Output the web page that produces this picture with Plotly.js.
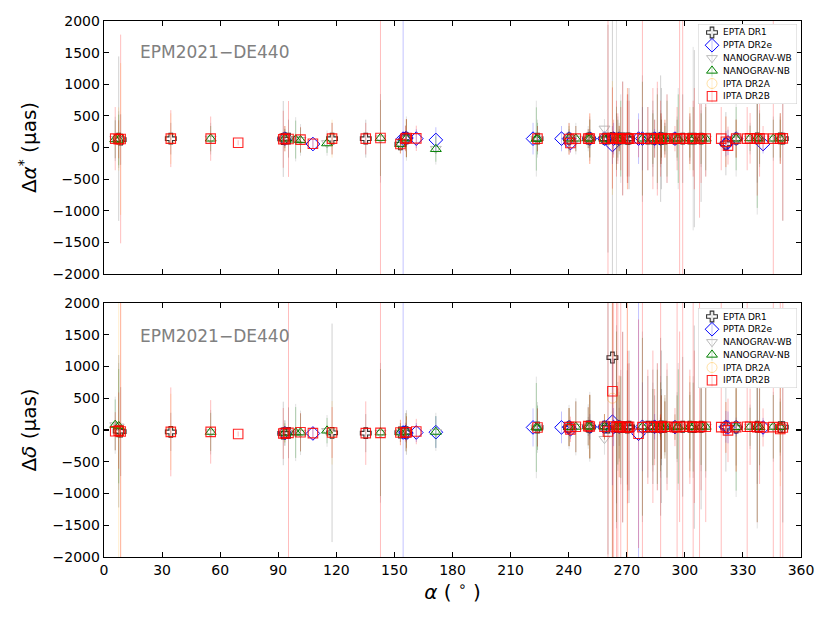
<!DOCTYPE html>
<html>
<head>
<meta charset="utf-8">
<script src="https://cdn.plot.ly/plotly-3.0.1.min.js"></script>
<style>body{margin:0;background:#fff}#plot{width:830px;height:623px}</style>
</head>
<body>
<div id="plot"></div>
<script>
// ---------------- DATA ----------------
const seriesNames = ['EPTA DR1', 'PPTA DR2e', 'NANOGRAV-WB', 'NANOGRAV-NB', 'IPTA DR2A', 'IPTA DR2B'];
const panelLabel = 'EPM2021−DE440';

// EPTA DR1
const eptaRA    = [7.6, 8.6, 34.5, 92.6, 93.4, 95.3, 117.8, 135.2, 153.1, 155.7, 156.2, 223.9, 240.2, 250.1, 250.9, 258.5, 260.3, 262.6, 264.7, 266.1, 267.9, 270.3, 270.5, 271.2, 280.9, 283.5, 284.4, 287.4, 287.5, 287.9, 287.9, 289.7, 294.9, 298.9, 302.6, 304.9, 308.4, 321.2, 326.5, 337.4, 349.3, 350.6];
const eptaDA    = [140,125,140,135,145,140,140,140,50,150,145,140,140,140,145,140,140,150,140,140,145,140,140,140,140,140,140,145,140,140,140,140,140,140,140,140,140,60,140,145,145,140];
const eptaDAerr = [1300,400,250,600,150,300,250,300,100,200,300,200,150,100,300,100,1800,5000,400,150,900,600,700,800,500,600,300,100,1000,300,800,250,100,700,400,1400,1000,500,300,700,400,1300];
const eptaDD    = [-20,-25,-30,-55,-50,-45,-45,-50,-40,-35,-40,40,45,55,50,50,40,1140,45,50,45,40,45,50,50,50,45,45,50,45,50,50,45,50,50,45,50,45,40,50,45,45];
const eptaDDerr = [1200,700,300,500,200,400,1720,300,150,300,350,300,300,150,500,100,2000,5000,1200,300,1500,900,1000,1200,800,900,500,150,1400,600,1200,500,200,1100,700,1600,1300,700,600,900,700,1500];

// PPTA DR2e
const pptaRA    = [93.4, 107.9, 154.5, 155.7, 156.2, 161.3, 171.4, 221.6, 236.3, 240.2, 240.9, 250.9, 258.5, 262.6, 263.2, 266.1, 276.1, 278.1, 284.4, 287.4, 294.9, 321.2, 322.3, 326.5, 340.4];
const pptaDA    = [140,55,140,145,150,140,120,140,140,140,70,140,140,40,140,140,140,140,140,140,140,60,80,140,55];
const pptaDAerr = [100,80,5000,60,120,150,200,250,200,80,150,150,40,300,250,60,400,500,150,30,60,200,200,100,150];
const pptaDD    = [-50,-55,-40,-35,-50,-40,-35,40,40,45,10,50,45,130,45,50,-60,50,50,45,45,50,40,45,40];
const pptaDDerr = [100,80,5000,80,150,150,250,300,250,100,150,200,50,1000,300,100,5000,700,200,30,100,250,250,150,150];

// NANOGRAV-WB
const wbRA    = [5.8, 7.6, 55.1, 93.4, 99.0, 101.5, 115.2, 142.8, 153.1, 156.2, 171.4, 223.3, 223.9, 240.2, 243.7, 250.1, 250.9, 258.5, 264.7, 265.4, 266.1, 266.9, 278.1, 283.5, 285.8, 287.4, 287.5, 287.9, 289.7, 290.8, 296.0, 296.6, 302.6, 304.3, 308.4, 310.8, 326.5, 333.7, 337.4, 338.6, 345.7, 349.3];
const wbDA    = [135,125,140,140,130,120,70,145,60,140,-20,140,140,140,140,140,140,300,140,140,140,140,140,140,140,140,140,140,140,140,140,140,140,140,140,140,140,140,140,140,140,140];
const wbDAerr = [350,450,250,200,350,250,200,700,150,350,250,600,300,250,250,200,350,150,5000,350,250,700,1000,450,800,150,450,350,250,700,350,800,350,1450,450,600,600,250,1200,450,350,350];
const wbDD    = [75,55,-35,-45,-40,-45,-15,-45,-40,-35,-30,40,40,45,50,55,50,-140,50,55,50,45,50,45,50,45,50,45,50,50,45,55,50,45,50,50,45,50,50,45,50,45];
const wbDDerr = [450,1000,350,200,450,350,250,1100,150,300,300,800,400,350,450,350,550,250,1600,700,550,900,1500,700,1000,200,800,600,450,900,550,1000,550,800,700,800,1100,350,1600,700,550,450];

// NANOGRAV-NB
const nbRA    = [5.8, 7.6, 55.1, 93.4, 99.0, 101.5, 115.2, 142.8, 153.1, 156.2, 171.4, 223.3, 223.9, 240.2, 243.7, 250.1, 250.9, 258.5, 264.7, 265.4, 266.1, 266.9, 278.1, 283.5, 285.8, 287.4, 287.5, 287.9, 289.7, 290.8, 296.0, 296.6, 302.6, 304.3, 308.4, 310.8, 326.5, 333.7, 337.4, 338.6, 345.7, 349.3];
const nbDA    = [130,120,140,140,125,115,65,150,55,145,-25,135,140,140,140,140,140,135,145,140,140,140,140,140,140,140,140,140,140,140,140,140,140,140,140,140,140,145,145,140,140,140];
const nbDAerr = [300,400,200,150,300,200,150,600,100,300,200,500,250,200,200,150,300,100,500,300,200,600,900,400,700,100,400,300,200,600,300,700,300,500,400,500,500,200,1100,400,300,300];
const nbDD    = [80,60,-30,-45,-40,-40,-10,-40,-40,-30,-30,40,35,45,50,55,50,50,50,55,50,45,50,45,50,45,50,45,50,50,45,55,50,45,50,50,45,50,50,45,50,45];
const nbDDerr = [400,900,300,150,400,300,200,1000,100,250,250,700,350,300,400,300,500,200,1500,600,500,800,1400,600,900,150,700,500,400,800,500,900,500,700,600,700,1000,300,1500,600,500,400];

// IPTA DR2A
const dr2aRA    = [7.6, 8.6, 34.5, 93.4, 117.8, 153.1, 156.2, 240.2, 250.9, 258.5, 262.6, 266.1, 270.3, 287.4, 289.7, 294.9, 302.6, 321.2, 326.5, 349.3];
const dr2aDA    = [135,135,140,140,140,55,150,140,140,140,150,140,140,145,140,140,140,90,140,140];
const dr2aDAerr = [500,1200,400,200,300,150,300,250,400,100,900,200,800,100,300,100,500,400,300,400];
const dr2aDD    = [-15,-25,-30,-50,-45,-40,-40,45,55,50,500,55,40,45,50,45,50,40,45,15];
const dr2aDDerr = [5000,3000,600,150,500,200,300,300,500,200,5000,800,3000,200,500,200,800,400,700,900];

// IPTA DR2B
const dr2bRA    = [5.8, 7.6, 8.6, 34.5, 55.1, 69.3, 92.6, 93.4, 95.3, 101.5, 107.9, 117.8, 135.2, 142.8, 153.1, 155.7, 156.2, 161.3, 223.9, 240.2, 240.9, 243.7, 250.1, 250.9, 258.5, 260.3, 262.6, 263.2, 264.7, 265.4, 266.1, 266.9, 267.9, 270.3, 270.5, 271.2, 276.1, 278.1, 280.9, 283.5, 284.4, 285.8, 287.4, 287.5, 287.9, 289.7, 290.8, 294.9, 296.0, 297.3, 298.9, 302.6, 304.3, 304.9, 307.6, 308.4, 310.8, 318.8, 321.2, 322.3, 326.5, 332.2, 333.7, 337.4, 338.6, 340.4, 345.7, 349.3, 350.6];
const dr2bDA    = [140,130,135,140,140,75,130,140,135,125, 60,140,140,150,55,140,150,145,140,135, 70,140,140,140,140,140,150,140,140,140, 145,140,140,140,140,140,145,140,140,140, 140,140,145,140,140,140,140,140,140,140, 140,140,140,140,140,140,140,140,90,30, 140,140,145,140,140,140,140,140,145];
const dr2bDAerr = [500,300,1650,450,350,40,450,200,600,200, 80,250,250,5000,150,200,300,200,200,250, 150,200,150,400,100,5000,800,300,600,400, 200,500,900,700,800,600,300,5000,500,800, 300,900,100,600,400,300,700,200,500,5000, 5000,400,600,800,1250,700,600,500,400,300, 300,500,400,900,600,200,5000,400,1300];
const dr2bDD    = [-20,-10,-25,-30,-30,-63,-55,-50,-45,-35, -50,-40,-50,-45,-40,-35,-40,-25,40,45, 10,50,60,55,50,-25,610,55,45,50, 55,50,45,40,45,50,-60,45,50,50, 45,50,45,50,45,50,50,45,45,50, 50,50,45,50,45,50,50,45,40,-6, 45,50,50,45,50,40,45,15,40];
const dr2bDDerr = [300,600,5000,700,500,40,400,100,5000,300, 100,400,500,5000,200,150,250,200,300,300, 200,400,300,500,200,5000,5000,5000,5000,5000, 800,5000,1500,5000,1200,1000,1800,5000,900,1200, 600,1000,200,5000,500,400,1000,300,5000,1500, 5000,900,5000,1200,5000,1000,1500,5000,400,500, 700,5000,600,1500,900,300,5000,5000,5000];

// ---------------- STYLES ----------------
const styles = [
  {symbol:'cross-open',         color:'#333333',               size:9,   lw:1.1, err:'rgba(90,90,90,0.28)'},
  {symbol:'diamond-open',       color:'#0000ff',               size:10.5,lw:1.0, err:'rgba(0,0,255,0.24)'},
  {symbol:'triangle-down-open', color:'#bbbbbb',               size:9.5, lw:1.0, err:'rgba(140,140,140,0.25)'},
  {symbol:'triangle-up-open',   color:'#008000',               size:9.5, lw:1.0, err:'rgba(0,128,0,0.26)'},
  {symbol:'circle-open',        color:'rgba(255,165,0,0.35)',  size:10,  lw:1.0, err:'rgba(255,165,0,0.20)'},
  {symbol:'square-open',        color:'rgba(255,0,0,0.85)',    size:9.5, lw:1.1, err:'rgba(255,0,0,0.26)'}
];

const series = [
  [eptaRA, eptaDA, eptaDAerr, eptaDD, eptaDDerr],
  [pptaRA, pptaDA, pptaDAerr, pptaDD, pptaDDerr],
  [wbRA, wbDA, wbDAerr, wbDD, wbDDerr],
  [nbRA, nbDA, nbDAerr, nbDD, nbDDerr],
  [dr2aRA, dr2aDA, dr2aDAerr, dr2aDD, dr2aDDerr],
  [dr2bRA, dr2bDA, dr2bDAerr, dr2bDD, dr2bDDerr]
];

const mkOf = st => ({symbol: st.symbol, size: st.size, color: st.color, line: {color: st.color, width: st.lw}});

const traces = [];
series.forEach((s, i) => {
  const st = styles[i];
  traces.push({
    type:'scatter', mode:'markers', name: seriesNames[i], x: s[0], y: s[1],
    xaxis:'x2', yaxis:'y', marker: mkOf(st), showlegend:false, hoverinfo:'skip',
    error_y:{type:'data', array:s[2], visible:true, color:st.err, thickness:1, width:0}
  });
  traces.push({
    type:'scatter', mode:'markers', name: seriesNames[i], x: s[0], y: s[3],
    xaxis:'x', yaxis:'y2', marker: mkOf(st), showlegend:false, hoverinfo:'skip',
    error_y:{type:'data', array:s[4], visible:true, color:st.err, thickness:1, width:0}
  });
});

// ---------------- LAYOUT ----------------
const W = 830, H = 623, ML = 104, MR = 29, MT = 21, MB = 66;
const PW = W - ML - MR, PH = H - MT - MB;
const px2x = p => (p - ML) / PW;
const py2y = p => (H - MB - p) / PH;

const axBase = {
  showline:true, linecolor:'black', linewidth:1.3, mirror:'ticks',
  ticks:'inside', ticklen:5, tickwidth:1.1, tickcolor:'black',
  showgrid:false, zeroline:false, exponentformat:'none',
  tickfont:{size:14, family:'DejaVu Sans', color:'black'}
};

const annotations = [];
const shapes = [];
// panel labels
[52, 336].forEach(py => {
  annotations.push({text: panelLabel, xref:'paper', yref:'paper', x: px2x(138), y: py2y(py),
    xanchor:'left', yanchor:'middle', showarrow:false, font:{size:17, color:'#808080', family:'DejaVu Sans'}});
});

// compact legends: one small overlay subplot per panel (pixel-like local axes)
const legendBoxes = [{top:24, xa:'x3', ya:'y3'}, {top:308, xa:'x4', ya:'y4'}];
const LBW = 99, LBH = 80, ROW = 12.75, ROW0 = 8.5, SYMX = 14, TXTX = 24;
const legendAxes = {};
legendBoxes.forEach(lb => {
  const xn = 'xaxis' + lb.xa.slice(1), yn = 'yaxis' + lb.ya.slice(1);
  legendAxes[xn] = {domain:[px2x(698), px2x(698 + LBW)], range:[0, LBW], visible:false, anchor: lb.ya, fixedrange:true};
  legendAxes[yn] = {domain:[py2y(lb.top + LBH), py2y(lb.top)], range:[LBH, 0], visible:false, anchor: lb.xa, fixedrange:true};
  shapes.push({type:'rect', xref: lb.xa, yref: lb.ya, x0:0, x1:LBW, y0:0, y1:LBH, layer:'below',
    line:{color:'#cccccc', width:1}, fillcolor:'rgba(255,255,255,0.88)'});
  seriesNames.forEach((nm, i) => {
    const st = styles[i];
    const rowY = ROW0 + ROW * i;
    traces.push({type:'scatter', mode:'markers', x:[SYMX], y:[rowY], xaxis: lb.xa, yaxis: lb.ya,
      marker: mkOf(st), showlegend:false, hoverinfo:'skip', cliponaxis:false,
      error_y:{type:'data', array:[6], visible:true, color: st.err, thickness:1, width:0}});
    annotations.push({text: nm, xref: lb.xa, yref: lb.ya, x: TXTX, y: rowY,
      xanchor:'left', yanchor:'middle', showarrow:false, borderpad:0,
      font:{size:9, color:'black', family:'DejaVu Sans'}});
  });
});

const layout = Object.assign({
  width: W, height: H,
  margin:{l:ML, r:MR, t:MT, b:MB, pad:0},
  paper_bgcolor:'white', plot_bgcolor:'white',
  showlegend:false,
  font:{family:'DejaVu Sans', size:14, color:'black'},
  xaxis: Object.assign({}, axBase, {anchor:'y2', domain:[0,1], range:[0,360], tick0:0, dtick:30,
    title:{text:'<i>α</i> ( <sup>∘</sup> )', font:{size:20, family:'DejaVu Sans'}, standoff:4}}),
  xaxis2: Object.assign({}, axBase, {anchor:'y', domain:[0,1], range:[0,360], tick0:0, dtick:30, matches:'x', showticklabels:false}),
  yaxis: Object.assign({}, axBase, {anchor:'x2', domain:[0.528,1], range:[-2000,2000], tick0:0, dtick:500,
    title:{text:'Δ<i>α</i><sup>*</sup> (μas)', font:{size:20, family:'DejaVu Sans'}, standoff:10}}),
  yaxis2: Object.assign({}, axBase, {anchor:'x', domain:[0,0.474], range:[-2000,2000], tick0:0, dtick:500,
    title:{text:'Δ<i>δ</i> (μas)', font:{size:20, family:'DejaVu Sans'}, standoff:10}}),
  annotations: annotations,
  shapes: shapes
}, legendAxes);

Plotly.newPlot('plot', traces, layout, {staticPlot:true, displayModeBar:false});
</script>
</body>
</html>
